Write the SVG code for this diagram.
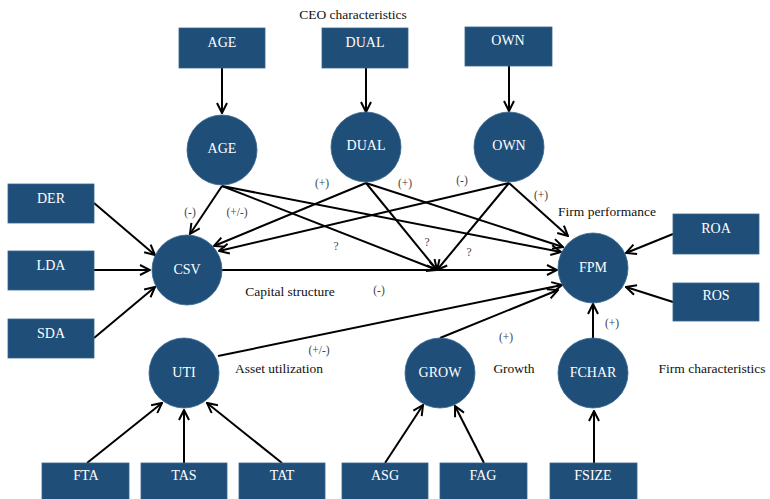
<svg xmlns="http://www.w3.org/2000/svg" width="770" height="499" viewBox="0 0 770 499">
  <defs>
    <marker id="arrow" viewBox="0 0 12 12" refX="11" refY="6" markerWidth="12" markerHeight="12" markerUnits="userSpaceOnUse" orient="auto">
      <path d="M1,1 L11,6 L1,11" fill="none" stroke="#000" stroke-width="2" stroke-linejoin="miter"/>
    </marker>
    <style>
      .box { fill: #1f4e79; stroke: #35668f; stroke-width: 0.8; }
      .node { fill: #1f4e79; stroke: #35668f; stroke-width: 0.8; }
      .lbl { font-family: "Liberation Serif", "DejaVu Serif", serif; font-size: 14px; fill: #ffffff; text-anchor: middle; }
      .cap { font-family: "Liberation Serif", "DejaVu Serif", serif; font-size: 13.5px; fill: #111; text-anchor: middle; }
      .sign { font-family: "Liberation Serif", "DejaVu Serif", serif; font-size: 11.5px; fill: #444; text-anchor: middle; }
      .edge { stroke: #000; stroke-width: 2; fill: none; marker-end: url(#arrow); }
    </style>
  </defs>
  <rect width="770" height="499" fill="#ffffff"/>

  <!-- group captions -->
  <g id="captions">
    <text class="cap" x="353" y="19">CEO characteristics</text>
    <text class="cap" x="607" y="216">Firm performance</text>
    <text class="cap" x="290" y="296">Capital structure</text>
    <text class="cap" x="279" y="373">Asset utilization</text>
    <text class="cap" x="514" y="373">Growth</text>
    <text class="cap" x="712" y="373">Firm characteristics</text>
  </g>

  <!-- connectors -->
  <g id="connectors">
    <line class="edge" x1="222" y1="68" x2="222" y2="113"/>
    <line class="edge" x1="366" y1="68" x2="366" y2="112"/>
    <line class="edge" x1="509" y1="66" x2="509" y2="111"/>

    <line class="edge" x1="222" y1="186" x2="190" y2="234"/>
    <line class="edge" x1="222" y1="186" x2="561" y2="252"/>
    <line class="edge" x1="222" y1="186" x2="437" y2="270"/>

    <line class="edge" x1="366" y1="183" x2="214" y2="246"/>
    <line class="edge" x1="366" y1="183" x2="563" y2="247"/>
    <line class="edge" x1="366" y1="183" x2="437" y2="270"/>

    <line class="edge" x1="509" y1="183" x2="219" y2="251"/>
    <line class="edge" x1="509" y1="183" x2="568" y2="236"/>
    <line class="edge" x1="509" y1="183" x2="437" y2="270"/>

    <line class="edge" x1="222" y1="270" x2="557" y2="270"/>
    <line class="edge" x1="218" y1="356" x2="562" y2="285"/>
    <line class="edge" x1="440" y1="338" x2="558" y2="290"/>
    <line class="edge" x1="593" y1="338" x2="593" y2="304"/>

    <line class="edge" x1="673" y1="234" x2="626" y2="253"/>
    <line class="edge" x1="673" y1="302" x2="626" y2="287"/>

    <line class="edge" x1="94" y1="203" x2="155" y2="255"/>
    <line class="edge" x1="94" y1="270" x2="150" y2="270"/>
    <line class="edge" x1="94" y1="338" x2="155" y2="287"/>

    <line class="edge" x1="87" y1="463" x2="162" y2="403"/>
    <line class="edge" x1="184" y1="463" x2="184" y2="410"/>
    <line class="edge" x1="282" y1="463" x2="207" y2="403"/>

    <line class="edge" x1="385" y1="463" x2="423" y2="405"/>
    <line class="edge" x1="484" y1="463" x2="455" y2="406"/>
    <line class="edge" x1="594" y1="463" x2="594" y2="411"/>
  </g>

  <!-- relationship signs -->
  <g id="signs">
    <text class="sign" x="190" y="216">(-)</text>
    <text class="sign" x="237" y="216">(+/-)</text>
    <text class="sign" x="322" y="187">(+)</text>
    <text class="sign" x="405" y="187">(+)</text>
    <text class="sign" x="462" y="184">(-)</text>
    <text class="sign" x="541" y="199">(+)</text>
    <text class="sign" x="336" y="250">?</text>
    <text class="sign" x="427" y="246">?</text>
    <text class="sign" x="469" y="256">?</text>
    <text class="sign" x="379" y="294">(-)</text>
    <text class="sign" x="319" y="354">(+/-)</text>
    <text class="sign" x="506" y="341">(+)</text>
    <text class="sign" x="612" y="327">(+)</text>
  </g>

  <!-- CEO indicator boxes -->
  <g id="box-age"><rect class="box" x="179" y="28" width="86" height="40"/><text class="lbl" x="222" y="47">AGE</text></g>
  <g id="box-dual"><rect class="box" x="322" y="28" width="86" height="40"/><text class="lbl" x="365" y="47">DUAL</text></g>
  <g id="box-own"><rect class="box" x="465" y="27" width="87" height="39"/><text class="lbl" x="508" y="45">OWN</text></g>

  <!-- capital structure indicators -->
  <g id="box-der"><rect class="box" x="8" y="184" width="86" height="39"/><text class="lbl" x="51" y="203">DER</text></g>
  <g id="box-lda"><rect class="box" x="8" y="251" width="86" height="39"/><text class="lbl" x="51" y="270">LDA</text></g>
  <g id="box-sda"><rect class="box" x="8" y="319" width="86" height="39"/><text class="lbl" x="51" y="338">SDA</text></g>

  <!-- performance indicators -->
  <g id="box-roa"><rect class="box" x="673" y="214" width="86" height="40"/><text class="lbl" x="716" y="233">ROA</text></g>
  <g id="box-ros"><rect class="box" x="673" y="283" width="86" height="38"/><text class="lbl" x="716" y="300">ROS</text></g>

  <!-- bottom indicator boxes -->
  <g id="box-fta"><rect class="box" x="42" y="463" width="87" height="40"/><text class="lbl" x="86" y="480">FTA</text></g>
  <g id="box-tas"><rect class="box" x="141" y="463" width="86" height="40"/><text class="lbl" x="184" y="480">TAS</text></g>
  <g id="box-tat"><rect class="box" x="239" y="463" width="86" height="40"/><text class="lbl" x="282" y="480">TAT</text></g>
  <g id="box-asg"><rect class="box" x="342" y="463" width="86" height="40"/><text class="lbl" x="385" y="480">ASG</text></g>
  <g id="box-fag"><rect class="box" x="440" y="463" width="87" height="40"/><text class="lbl" x="483" y="480">FAG</text></g>
  <g id="box-fsize"><rect class="box" x="550" y="463" width="87" height="40"/><text class="lbl" x="593" y="480">FSIZE</text></g>

  <!-- latent constructs -->
  <g id="node-age"><circle class="node" cx="222" cy="150" r="35"/><text class="lbl" x="222" y="153">AGE</text></g>
  <g id="node-dual"><circle class="node" cx="366" cy="147" r="35"/><text class="lbl" x="366" y="150">DUAL</text></g>
  <g id="node-own"><circle class="node" cx="509" cy="147" r="35"/><text class="lbl" x="509" y="150">OWN</text></g>
  <g id="node-csv"><circle class="node" cx="187" cy="270" r="35"/><text class="lbl" x="187" y="274">CSV</text></g>
  <g id="node-fpm"><circle class="node" cx="593" cy="268" r="35"/><text class="lbl" x="593" y="272">FPM</text></g>
  <g id="node-uti"><circle class="node" cx="184" cy="373" r="35"/><text class="lbl" x="184" y="377">UTI</text></g>
  <g id="node-grow"><circle class="node" cx="440" cy="373" r="35"/><text class="lbl" x="440" y="377">GROW</text></g>
  <g id="node-fchar"><circle class="node" cx="593" cy="373" r="35"/><text class="lbl" x="593" y="377">FCHAR</text></g>
</svg>
